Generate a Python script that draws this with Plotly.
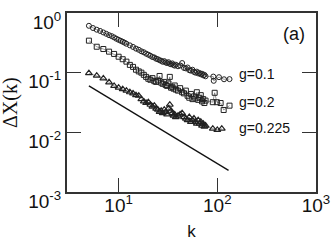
import plotly.graph_objects as go

# g = 0.1 (circles)
k_g01 = [5, 5.5, 6, 6.5, 7, 7.5, 8, 8.5, 9, 9.5, 10, 10.5, 11, 11.5, 12, 13, 14, 15, 16, 17,
         18, 19, 20, 21, 22, 23, 24, 25, 26, 27, 28, 29, 30, 31, 32, 33, 34, 35, 36, 37,
         38, 40, 42, 44, 46, 48, 50, 52, 54, 56, 58, 60, 62, 64, 66, 68, 70, 72, 74, 76,
         91, 92, 104, 117, 133]
dx_g01 = [0.61, 0.56, 0.525, 0.50, 0.472, 0.448, 0.425, 0.41, 0.39, 0.37, 0.355, 0.342, 0.33,
          0.318, 0.305, 0.287, 0.27, 0.253, 0.242, 0.228, 0.22, 0.208, 0.2, 0.192, 0.183, 0.18,
          0.171, 0.168, 0.162, 0.158, 0.152, 0.156, 0.148, 0.145, 0.15, 0.141, 0.138, 0.143,
          0.135, 0.131, 0.136, 0.128, 0.132, 0.145, 0.12, 0.118, 0.122, 0.11, 0.108, 0.112,
          0.103, 0.1, 0.104, 0.097, 0.099, 0.094, 0.096, 0.09, 0.092, 0.087,
          0.086, 0.073, 0.084, 0.0775, 0.078]

# g = 0.2 (squares)
k_g02 = [5, 6, 7, 8, 9, 10, 11, 12, 13, 14, 15, 16, 17, 18, 19, 20, 21, 22, 23, 24, 25, 26,
         27, 28, 29, 30, 31, 32, 33, 34, 35, 36, 37, 38, 40, 42, 44, 46, 48, 50, 52, 54, 56,
         58, 60, 62, 64, 66, 68, 70, 72, 74, 76, 90, 94, 99, 108, 116, 133]
dx_g02 = [0.344, 0.272, 0.249, 0.225, 0.206, 0.185, 0.168, 0.153, 0.135, 0.125, 0.112, 0.105,
          0.1, 0.092, 0.085, 0.079, 0.076, 0.081, 0.072, 0.07, 0.074, 0.088, 0.068, 0.065,
          0.07, 0.062, 0.06, 0.066, 0.085, 0.056, 0.058, 0.054, 0.061, 0.052, 0.05, 0.055,
          0.047, 0.045, 0.05, 0.041, 0.038, 0.044, 0.036, 0.04, 0.037, 0.047, 0.035, 0.038,
          0.042, 0.033, 0.036, 0.031, 0.034, 0.032, 0.046, 0.032, 0.031, 0.0237, 0.028]

# g = 0.225 (triangles)
k_g0225 = [5, 6, 7, 8, 9, 10, 11, 12, 13, 14, 15, 16, 17, 18, 19, 20, 21, 22, 23, 24, 25, 26,
           27, 28, 29, 30, 31, 32, 33, 34, 35, 36, 37, 38, 40, 42, 44, 46, 48, 50, 52, 54, 56,
           58, 60, 62, 64, 66, 68, 70, 72, 74, 76, 90, 100, 111]
dx_g0225 = [0.098, 0.089, 0.08, 0.069, 0.06, 0.056, 0.053, 0.05, 0.047, 0.045, 0.042, 0.041,
            0.036, 0.033, 0.031, 0.032, 0.029, 0.027, 0.028, 0.025, 0.024, 0.022, 0.023, 0.021,
            0.024, 0.022, 0.02, 0.025, 0.029, 0.023, 0.021, 0.019, 0.02, 0.018, 0.019, 0.02,
            0.021, 0.018, 0.017, 0.016, 0.018, 0.015, 0.016, 0.017, 0.015, 0.014, 0.016, 0.014,
            0.015, 0.013, 0.014, 0.0125, 0.013, 0.0115, 0.011, 0.0115]

# reference power-law guide line
k_guide = [5, 130]
dx_guide = [0.06, 0.0023]

series_labels = ["g=0.1", "g=0.2", "g=0.225"]
x_tickvals = [10, 100, 1000]
x_ticktext = ["10<sup>1</sup>", "10<sup>2</sup>", "10<sup>3</sup>"]
y_tickvals = [1, 0.1, 0.01, 0.001]
y_ticktext = ["10<sup>0</sup>", "10<sup>-1</sup>", "10<sup>-2</sup>", "10<sup>-3</sup>"]

ink = "#222222"
fig = go.Figure()
for kk, vv, sym, sz, lw in [(k_g01, dx_g01, "circle-open", 5, 1),
                            (k_g02, dx_g02, "square-open", 5, 1),
                            (k_g0225, dx_g0225, "triangle-up-open", 6, 1.2)]:
    fig.add_trace(go.Scatter(x=kk, y=vv, mode="lines+markers",
                             line=dict(color="#555555", width=0.6),
                             marker=dict(symbol=sym, size=sz, color=ink,
                                         line=dict(color=ink, width=lw)),
                             showlegend=False))
fig.add_trace(go.Scatter(x=k_guide, y=dx_guide, mode="lines",
                         line=dict(color="#111111", width=1.3), showlegend=False))

L, R, T, B = 67, 316, 13, 192
W, H = 332, 245
def px(xp):
    return (xp - L) / (R - L)
def py(yp):
    return 1 - (yp - T) / (B - T)

font_main = "Liberation Sans"
for txt, yp in zip(series_labels, [74, 102, 128]):
    fig.add_annotation(x=px(237), y=py(yp), xref="paper", yref="paper", text=txt,
                       showarrow=False, xanchor="left", yanchor="middle",
                       font=dict(family=font_main, size=14, color="#111111"))
fig.add_annotation(x=px(294), y=py(34), xref="paper", yref="paper", text="(a)",
                   showarrow=False, xanchor="center", yanchor="middle",
                   font=dict(family=font_main, size=18, color="#111111"))
# y-axis title placed as rotated text
fig.add_annotation(x=px(10), y=py(103), xref="paper", yref="paper", text="ΔX(k)",
                   textangle=-90, showarrow=False, xanchor="center", yanchor="middle",
                   font=dict(family="Liberation Serif", size=20, color="#111111"))

axis_common = dict(type="log", showline=True, linecolor="#333333", linewidth=2,
                   mirror="ticks", ticks="inside", ticklen=14, tickwidth=1.3,
                   tickcolor="#333333", showgrid=False, zeroline=False, automargin=False,
                   ticklabeloverflow="allow",
                   tickfont=dict(family=font_main, size=19, color="#111111"))

fig.update_xaxes(range=[0.477, 3], tickvals=x_tickvals, ticktext=x_ticktext,
                 ticklabelstandoff=-5,
                 title=dict(text="k", font=dict(family=font_main, size=17, color="#111111"),
                            standoff=10),
                 **axis_common)
fig.update_yaxes(range=[-3, 0], tickvals=y_tickvals, ticktext=y_ticktext,
                 ticklabelshift=9,
                 **axis_common)

fig.update_layout(width=W, height=H, margin=dict(l=L, r=W - R, t=T, b=H - B),
                  paper_bgcolor="white", plot_bgcolor="white")
fig.write_html("out.html", config={"displayModeBar": False},
               post_script="document.body.style.margin='0px';")
